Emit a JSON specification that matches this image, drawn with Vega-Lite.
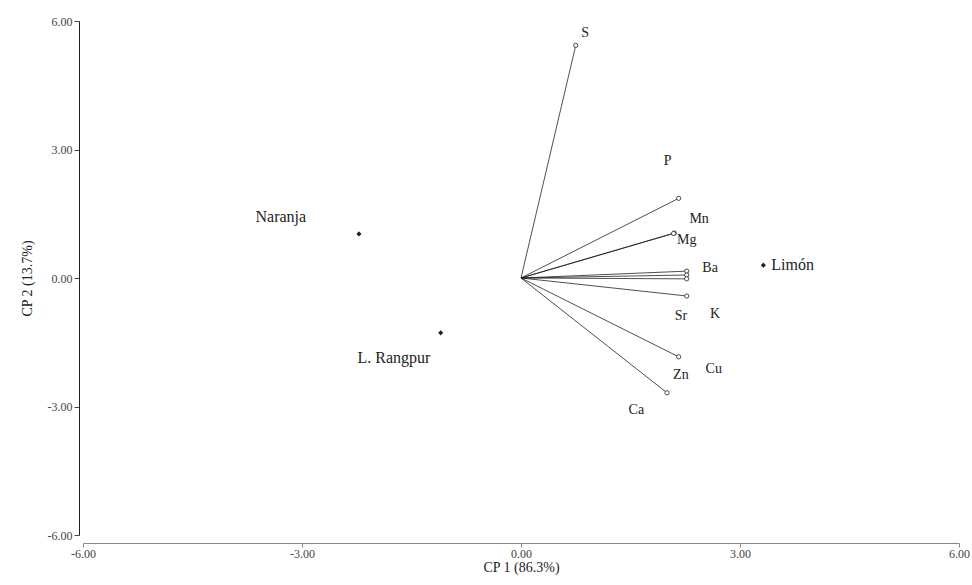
{
  "$schema": "https://vega.github.io/schema/vega-lite/v6.json",
  "autosize": "none",
  "width": 876,
  "height": 514,
  "padding": {"left": 83, "top": 21, "right": 13, "bottom": 50},
  "background": "white",
  "config": {
    "view": {"stroke": null},
    "font": "Liberation Serif",
    "axis": {
      "grid": false,
      "labelFont": "Liberation Serif",
      "titleFont": "Liberation Serif",
      "titleFontWeight": "normal",
      "titleFontSize": 14,
      "titleColor": "#222",
      "labelColor": "#444",
      "labelFontSize": 12,
      "labelFlush": false,
      "labelOverlap": false
    },
    "axisX": {"offset": 8, "domainColor": "#888", "tickColor": "#888", "tickSize": 4, "labelPadding": 1, "titlePadding": 1},
    "axisY": {"offset": 4, "domainColor": "#222", "tickColor": "#444", "tickSize": 5, "labelPadding": 2, "titlePadding": 13}
  },
  "datasets": {
    "vectors": [
      {"var": "S", "x": 0.75, "y": 5.43, "lx": 0.88, "ly": 5.71},
      {"var": "P", "x": 2.16, "y": 1.86, "lx": 2.01, "ly": 2.73},
      {"var": "Mn", "x": 2.10, "y": 1.05, "lx": 2.44, "ly": 1.38},
      {"var": "Mg", "x": 2.09, "y": 1.04, "lx": 2.27, "ly": 0.89},
      {"var": "Ba", "x": 2.27, "y": 0.16, "lx": 2.59, "ly": 0.23},
      {"var": "K", "x": 2.27, "y": 0.07, "lx": 2.66, "ly": -0.84},
      {"var": "Sr", "x": 2.27, "y": -0.02, "lx": 2.19, "ly": -0.89},
      {"var": "Cu", "x": 2.27, "y": -0.42, "lx": 2.64, "ly": -2.12},
      {"var": "Zn", "x": 2.16, "y": -1.84, "lx": 2.19, "ly": -2.26},
      {"var": "Ca", "x": 2.00, "y": -2.68, "lx": 1.58, "ly": -3.08}
    ],
    "samples": [
      {"name": "Naranja", "x": -2.22, "y": 1.03, "lx": -3.29, "ly": 1.42},
      {"name": "L. Rangpur", "x": -1.10, "y": -1.28, "lx": -1.74, "ly": -1.86},
      {"name": "Limón", "x": 3.32, "y": 0.30, "lx": 3.72, "ly": 0.30}
    ]
  },
  "layer": [
    {
      "data": {"name": "vectors"},
      "mark": {"type": "rule", "color": "#222", "strokeWidth": 0.8},
      "encoding": {
        "x": {"field": "x", "type": "quantitative", "scale": {"domain": [-6, 6], "nice": false, "zero": false}, "axis": {"title": "CP 1 (86.3%)", "values": [-6, -3, 0, 3, 6], "labelExpr": "replace(format(datum.value, '.2f'), '\u2212', '-')"}},
        "y": {"field": "y", "type": "quantitative", "scale": {"domain": [-6, 6], "nice": false, "zero": false}, "axis": {"title": "CP 2 (13.7%)", "values": [-6, -3, 0, 3, 6], "labelExpr": "replace(format(datum.value, '.2f'), '\u2212', '-')"}},
        "x2": {"datum": 0},
        "y2": {"datum": 0}
      }
    },
    {
      "data": {"name": "vectors"},
      "mark": {"type": "point", "shape": "circle", "filled": false, "size": 18, "stroke": "#222", "strokeWidth": 0.8, "fill": "white", "opacity": 1},
      "encoding": {
        "x": {"field": "x", "type": "quantitative"},
        "y": {"field": "y", "type": "quantitative"}
      }
    },
    {
      "data": {"name": "vectors"},
      "mark": {"type": "text", "font": "Liberation Serif", "fontSize": 14, "color": "#222", "baseline": "middle", "align": "center"},
      "encoding": {
        "x": {"field": "lx", "type": "quantitative"},
        "y": {"field": "ly", "type": "quantitative"},
        "text": {"field": "var"}
      }
    },
    {
      "data": {"name": "samples"},
      "mark": {"type": "point", "shape": "diamond", "filled": true, "size": 26, "color": "#222", "opacity": 1},
      "encoding": {
        "x": {"field": "x", "type": "quantitative"},
        "y": {"field": "y", "type": "quantitative"}
      }
    },
    {
      "data": {"name": "samples"},
      "mark": {"type": "text", "font": "Liberation Serif", "fontSize": 16, "color": "#222", "baseline": "middle", "align": "center"},
      "encoding": {
        "x": {"field": "lx", "type": "quantitative"},
        "y": {"field": "ly", "type": "quantitative"},
        "text": {"field": "name"}
      }
    }
  ]
}
